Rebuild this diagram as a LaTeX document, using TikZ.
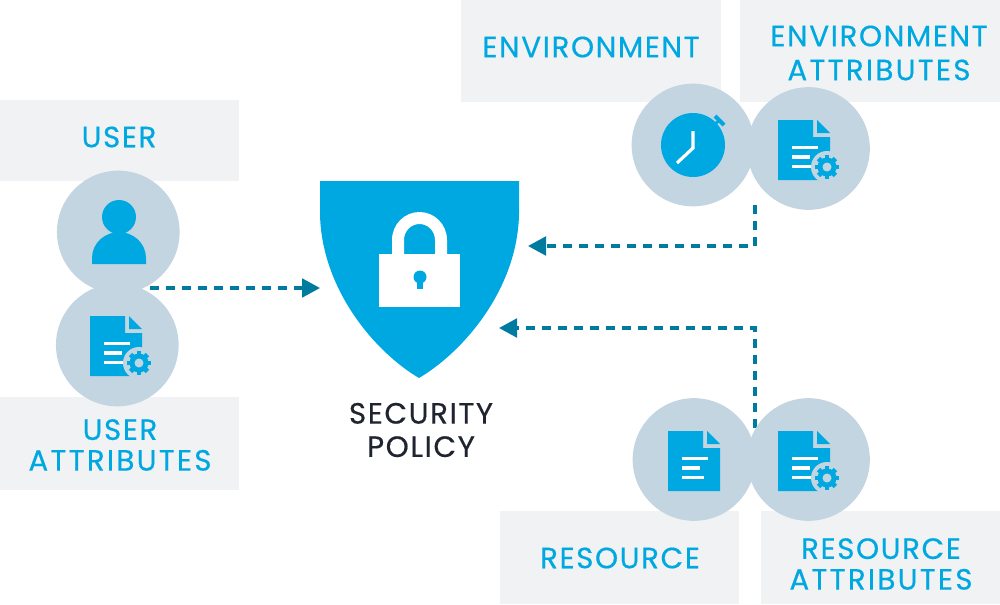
\documentclass[tikz,border=0pt]{standalone}
\usepackage{fontspec}
\setmainfont{Poppins}[LetterSpace=5.5,FakeBold=0.45]
\newcommand{\attrword}{{\addfontfeature{LetterSpace=7.8}ATTRIBUTES}}
\usetikzlibrary{arrows.meta}
\definecolor{panelgrey}{HTML}{F1F2F4}
\definecolor{discblue}{HTML}{C3D5E0}
\definecolor{brandcyan}{HTML}{00A8E1}
\definecolor{arrowteal}{HTML}{007BA0}
\definecolor{inkdark}{HTML}{1F2430}
\tikzset{
  x=0.75pt, y=-0.75pt,
  panel/.style={fill=panelgrey, draw=none},
  disc/.style={circle, fill=discblue, draw=none, minimum size=92pt, inner sep=0pt, outer sep=0pt},
  lbl/.style={text=brandcyan, align=center, inner sep=0pt, font=\fontsize{22pt}{#1}\selectfont},
  lbl/.default={25pt},
  flowline/.style={draw=arrowteal, line width=2.3pt, dash pattern=on 6.5pt off 5.5pt,
    -{Triangle[length=13.5pt,width=14pt,fill=arrowteal]}},
  docbody/.pic={
    \fill[brandcyan] (0,0) -- (35,0) -- (35,17) -- (52,17) -- (52,60) -- (0,60) -- cycle;
    \fill[brandcyan] (39,0) -- (52,13) -- (39,13) -- cycle;
    \fill[white] (14,25.5) rectangle (40,29);
    \fill[white] (14,35) rectangle (32,38.5);
  },
  docplain/.pic={
    \pic {docbody};
    \fill[white] (14,44.5) rectangle (36,48);
  },
  docgear/.pic={
    \pic {docbody};
    \fill[white] (14,44.5) rectangle (34,48);
    \fill[discblue] (49,47) circle[radius=16];
    \fill[brandcyan] (49,47) circle[radius=9.5];
    \foreach \a in {0,45,...,315}{
      \fill[brandcyan, shift={(49,47)}, rotate=\a] (-2.4,-12) rectangle (2.4,-6);
    }
    \fill[discblue] (49,47) circle[radius=4.5];
  },
}
\begin{document}
\begin{tikzpicture}
\useasboundingbox (0,0) rectangle (1000,604);
% panels
\fill[panel] (461,0) rectangle (721,102);
\fill[panel] (740,0) rectangle (1000,102);
\fill[panel] (0,100) rectangle (239,181);
\fill[panel] (0,397) rectangle (239,490);
\fill[panel] (500,511) rectangle (739,604);
\fill[panel] (761,511) rectangle (1000,604);
% connector end points
\coordinate (userout) at (150,288);
\coordinate (shieldleft) at (320,288);
\coordinate (envout) at (755,205);
\coordinate (envbend) at (755,246);
\coordinate (shieldupper) at (528,246);
\coordinate (resout) at (755,428);
\coordinate (resbend) at (755,328);
\coordinate (shieldlower) at (499,328);
% connectors
\draw[flowline] (userout) -- (shieldleft);
\draw[flowline] (envout) -- (envbend) -- (shieldupper);
\draw[flowline] (resout) -- (resbend) -- (shieldlower);
% discs
\node[disc] (userdisc) at (118.3,232) {};
\node[disc] (userattrdisc) at (117.3,345) {};
\node[disc] (envdisc) at (693,145) {};
\node[disc] (envattrdisc) at (808.5,148.5) {};
\node[disc] (resdisc) at (694,459.5) {};
\node[disc] (resattrdisc) at (808.5,459.5) {};
% icons
\fill[brandcyan] (119,217) circle[radius=17];
\fill[brandcyan] (92,264) -- (92,258) .. controls (92,243) and (105,232) .. (119,232)
  .. controls (133,232) and (146,243) .. (146,258) -- (146,264) -- cycle;
\pic at (90,316) {docgear};
\pic at (778,120) {docgear};
\begin{scope}[shift={(668,431)}, xscale=0.923, yscale=0.967]
\pic {docplain};
\end{scope}
\pic at (778,431) {docgear};
% clock
\fill[brandcyan] (693,145) circle[radius=32];
\draw[brandcyan, line width=2.2pt] (711,127) -- (720,120);
\draw[brandcyan, line width=3pt] (715,116) -- (724,125);
\draw[white, line width=2.4pt] (693,131) -- (693,148) -- (677,163);
% shield
\fill[brandcyan] (320,181) -- (519,181) -- (519,215)
  .. controls (517,290) and (463,352) .. (419,378)
  .. controls (375,352) and (322,290) .. (320,215) -- cycle;
% lock
\fill[white] (379,254) rectangle (460,307);
\fill[white, even odd rule] (392,256) -- (392,240) arc[start angle=180,end angle=360,x radius=27.5,y radius=28] -- (447,256) -- cycle
  (404,256) -- (404,240) arc[start angle=180,end angle=360,x radius=15.5,y radius=16] -- (435,256) -- cycle;
\fill[brandcyan] (420,277) circle[radius=6.5];
\fill[brandcyan] (417,277) rectangle (423,289);
% labels
\node[lbl] (envlabel) at (591,47) {ENVIRONMENT};
\node[lbl=25.5pt] (envattrlabel) at (879,53) {ENVIRONMENT\\\attrword};
\node[lbl] (userlabel) at (119,137) {USER};
\node[lbl=23pt] (userattrlabel) at (120,445) {USER\\\attrword};
\node[lbl] (reslabel) at (620,558) {RESOURCE};
\node[lbl=23pt] (resattrlabel) at (881,564) {RESOURCE\\\attrword};
\node[lbl=25pt, text=inkdark] (policylabel) at (421,430) {SECURITY\\POLICY};
\end{tikzpicture}
\end{document}
